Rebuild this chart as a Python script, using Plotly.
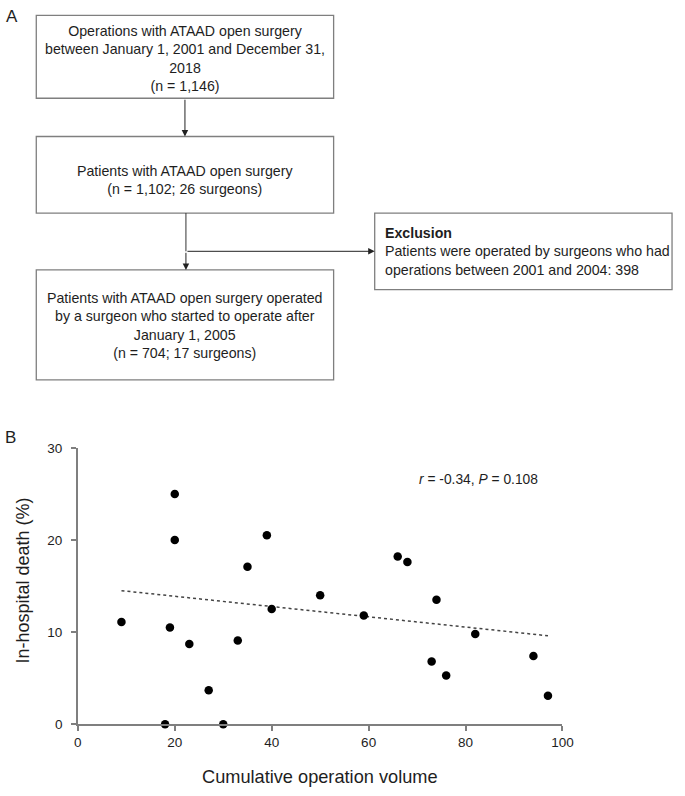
import plotly.graph_objects as go

# panel B data: cumulative operation volume vs in-hospital death (%)
volume = [9, 18, 19, 20, 20, 23, 27, 30, 33, 35, 39, 40, 50, 59, 66, 68, 73, 74, 76, 82, 94, 97]
death_pct = [11.1, 0, 10.5, 20.0, 25.0, 8.7, 3.7, 0, 9.1, 17.1, 20.5, 12.5, 14.0, 11.8, 18.2, 17.6, 6.8, 13.5, 5.3, 9.8, 7.4, 3.1]

# fitted trend line end points
trend_x = [9, 97]
trend_y = [14.5, 9.6]

x_ticks = [0, 20, 40, 60, 80, 100]
y_ticks = [0, 10, 20, 30]
stat_text = "<i>r</i> = -0.34, <i>P</i> = 0.108"

# panel A flowchart texts
box1_text = ["Operations with ATAAD open surgery", "between January 1, 2001 and December 31,", "2018", "(n = 1,146)"]
box2_text = ["Patients with ATAAD open surgery", "(n = 1,102; 26 surgeons)"]
box3_text = ["Patients with ATAAD open surgery operated", "by a surgeon who started to operate after", "January 1, 2005", "(n = 704; 17 surgeons)"]
excl_title = "Exclusion"
excl_text = ["Patients were operated by surgeons who had", "operations between 2001 and 2004: 398"]

W, H = 685, 796
FONT = "Liberation Sans, Arial, sans-serif"
TXT = "#1e1e1e"
LINE = "#7f7f7f"

fig = go.Figure()

# invisible full-page axis in pixel units for the flowchart
fig.add_trace(go.Scatter(x=[0], y=[0], xaxis="x2", yaxis="y2", mode="markers",
                         marker=dict(opacity=0), hoverinfo="skip", showlegend=False))

fig.add_trace(go.Scatter(x=trend_x, y=trend_y, mode="lines",
                         line=dict(color="#444", width=1.5, dash="dot"),
                         hoverinfo="skip", showlegend=False))
fig.add_trace(go.Scatter(x=volume, y=death_pct, mode="markers",
                         marker=dict(color="black", size=8.5),
                         cliponaxis=False, showlegend=False))

shapes = []
def box(x0, y0, x1, y1):
    shapes.append(dict(type="rect", xref="x2", yref="y2", x0=x0, y0=y0, x1=x1, y1=y1,
                       line=dict(color=LINE, width=1.3), layer="below"))

box(33, 8.5, 337, 93)
box(33, 132, 337, 210)
box(33, 268, 337, 380)
box(379, 210, 683, 288)
# vertical connector from box 2
shapes.append(dict(type="line", xref="x2", yref="y2", x0=186, y0=210, x1=186, y1=249,
                   line=dict(color="#333", width=1)))

annotations = []
def arrow(x0, y0, x1, y1):
    annotations.append(dict(x=x1, y=y1, ax=x0, ay=y0, xref="x2", yref="y2", axref="x2", ayref="y2",
                            text="", showarrow=True, arrowhead=2, arrowsize=1.3,
                            arrowwidth=1, arrowcolor="#222"))

arrow(185, 93, 185, 132)
arrow(186, 249, 186, 268)
arrow(186, 249, 379, 249)

def label(lines, x, y, anchor="center", size=14.2):
    annotations.append(dict(x=x, y=y, xref="x2", yref="y2", text="<br>".join(lines),
                            showarrow=False, xanchor=anchor, yanchor="middle",
                            align="left" if anchor == "left" else "center",
                            font=dict(family=FONT, size=size, color=TXT)))

label(box1_text, 185, 52)
label(box2_text, 185, 176)
label(box3_text, 185, 325)
label(["<b>" + excl_title + "</b>"] + excl_text, 387, 249, anchor="left")

# panel letters and axis titles
annotations.append(dict(x=8.5, y=10, xref="x2", yref="y2", text="A", showarrow=False,
                        font=dict(family=FONT, size=17, color=TXT)))
annotations.append(dict(x=7, y=439, xref="x2", yref="y2", text="B", showarrow=False,
                        font=dict(family=FONT, size=17, color=TXT)))
annotations.append(dict(x=19, y=585, xref="x2", yref="y2", text="In-hospital death (%)",
                        textangle=-90, showarrow=False,
                        font=dict(family=FONT, size=18, color=TXT)))
annotations.append(dict(x=323, y=785, xref="x2", yref="y2", text="Cumulative operation volume",
                        showarrow=False, font=dict(family=FONT, size=18.2, color=TXT)))
annotations.append(dict(x=485, y=482, xref="x2", yref="y2", text=stat_text,
                        showarrow=False, font=dict(family=FONT, size=13.8, color=TXT)))

fig.update_layout(
    width=W, height=H, autosize=False,
    margin=dict(l=0, r=0, t=0, b=0),
    paper_bgcolor="white", plot_bgcolor="rgba(0,0,0,0)",
    shapes=shapes, annotations=annotations,
    xaxis=dict(domain=[75.5 / W, 571 / W], range=[0, 100], tickvals=x_ticks,
               showgrid=False, zeroline=False, showline=True, linecolor=LINE, linewidth=1.5,
               ticks="outside", ticklen=5, tickcolor=LINE, tickwidth=1.5,
               tickfont=dict(family=FONT, size=13.5, color=TXT), anchor="y"),
    yaxis=dict(domain=[(H - 731) / H, (H - 449.3) / H], range=[0, 30], tickvals=y_ticks,
               showgrid=False, zeroline=False, showline=True, linecolor=LINE, linewidth=1.5,
               ticks="outside", ticklen=5, tickcolor=LINE, tickwidth=1.5,
               tickfont=dict(family=FONT, size=13.5, color=TXT), ticklabelstandoff=6, anchor="x"),
    xaxis2=dict(domain=[0, 1], range=[0, W], visible=False, anchor="y2", fixedrange=True),
    yaxis2=dict(domain=[0, 1], range=[H, 0], visible=False, anchor="x2", fixedrange=True),
)

# drop the default body margin so the figure fills the window exactly
fig.write_html("out.html", config={"displayModeBar": False},
               post_script="document.body.style.margin='0';")
